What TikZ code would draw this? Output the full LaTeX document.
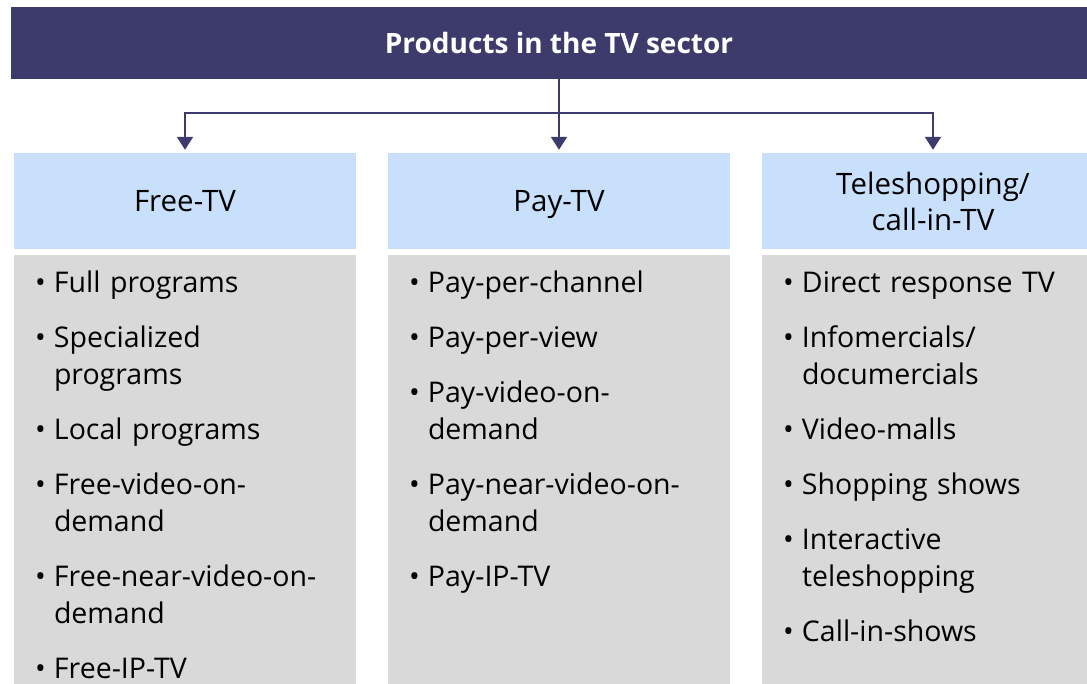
\documentclass[tikz,border=0pt]{standalone}
\usepackage{fontspec}
\setmainfont{Open Sans}
\usetikzlibrary{arrows.meta,positioning,backgrounds}

\definecolor{barblue}{HTML}{3D3B6B}
\definecolor{headblue}{HTML}{C8E0FC}
\definecolor{bodygray}{HTML}{D9D9D9}

\newcommand{\tvitem}[1]{\par\hangindent=19pt\hangafter=1\noindent
  \makebox[19pt][l]{\textbullet}#1}

\tikzset{
  topbar/.style={fill=barblue, text=white, minimum width=1096pt,
    minimum height=72pt, font=\fontsize{28}{32}\selectfont\bfseries},
  headbox/.style={fill=headblue, minimum width=342pt, minimum height=96pt,
    align=center, font=\fontsize{29.5}{36}\selectfont},
  oneline/.style={text depth=0pt},
  bodybox/.style={anchor=north, text width=300pt, minimum width=342pt,
    inner xsep=21pt, inner ysep=10pt,
    font=\fontsize{28.5}{37}\selectfont\setlength{\parskip}{18pt}},
  link/.style={draw=barblue, line width=2pt},
  tip/.style={-{Triangle[width=16pt,length=13pt]}, shorten >=3pt}
}

\begin{document}
\begin{tikzpicture}[x=1pt, y=-1pt]
  \useasboundingbox (0,0) rectangle (1087,684);

  \node[topbar] (sector) at (559,43) {Products in the TV sector};

  \node[headbox, oneline] (freetv) at (185,201) {Free-TV};
  \node[headbox, oneline] (paytv) at (559,201) {Pay-TV};
  \node[headbox] (shoptv) at (933,201) {Teleshopping/\\call-in-TV};

  \node[bodybox] (freelist) at (185,227) {%
    \tvitem{Full programs}
    \tvitem{Specialized\newline programs}
    \tvitem{Local programs}
    \tvitem{Free-video-on-\newline demand}
    \tvitem{Free-near-video-on-\newline demand}
    \tvitem{Free-IP-TV}};
  \node[bodybox] (paylist) at (559,227) {%
    \tvitem{Pay-per-channel}
    \tvitem{Pay-per-view}
    \tvitem{Pay-video-on-\newline demand}
    \tvitem{Pay-near-video-on-\newline demand}
    \tvitem{Pay-IP-TV}};
  \node[bodybox] (shoplist) at (933,227) {%
    \tvitem{Direct response TV}
    \tvitem{Infomercials/\newline documercials}
    \tvitem{Video-malls}
    \tvitem{Shopping shows}
    \tvitem{Interactive\newline teleshopping}
    \tvitem{Call-in-shows}};

  \begin{scope}[on background layer]
    \foreach \col in {freetv,paytv,shoptv}
      \fill[bodygray] ([yshift=-6pt]\col.south west)
        rectangle ([yshift=-446pt]\col.south east);
  \end{scope}

  % connectors
  \coordinate (split) at (559,113);
  \draw[link] (sector.south) -- (split);
  \draw[link, tip] (split) -| (freetv.north);
  \draw[link, tip] (split) -- (paytv.north);
  \draw[link, tip] (split) -| (shoptv.north);
\end{tikzpicture}
\end{document}
